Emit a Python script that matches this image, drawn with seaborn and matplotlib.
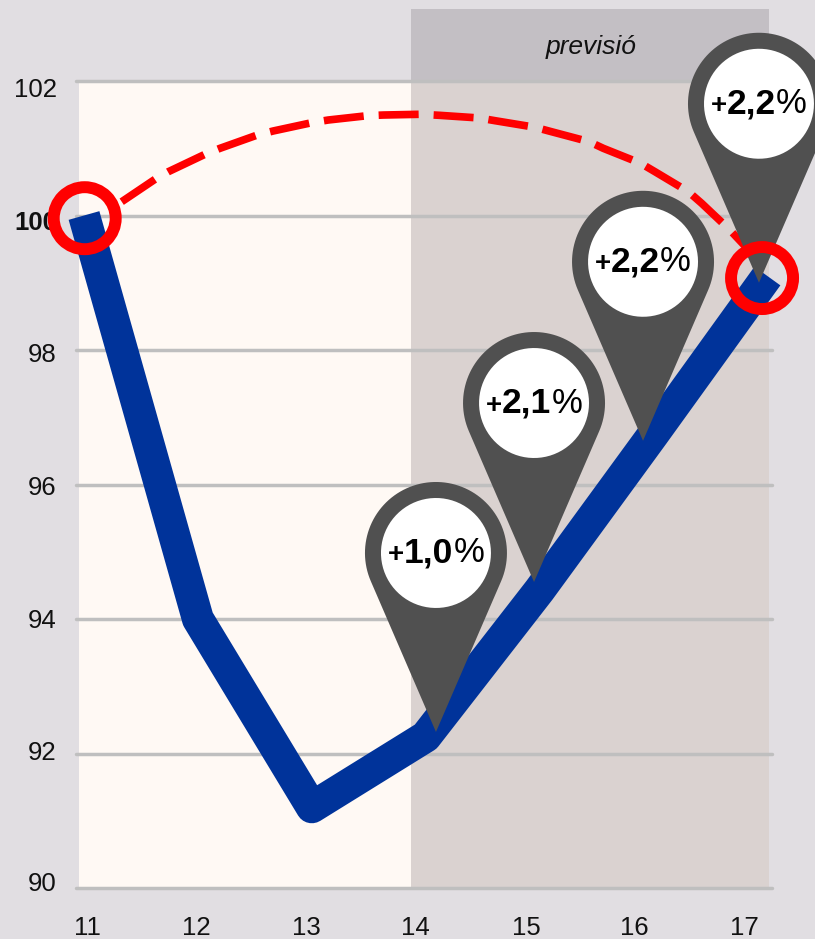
import numpy as np
import seaborn as sns
import matplotlib
matplotlib.use("Agg")
import matplotlib.pyplot as plt
from matplotlib.patches import Polygon
from matplotlib.transforms import Affine2D
from matplotlib.offsetbox import AnnotationBbox, HPacker, TextArea

# chart data
years = [11, 12, 13, 14, 15, 16, 17]
index_values = [100.0, 94.0, 91.2, 92.25, 94.43, 96.75, 99.1]
grid_levels = [90, 92, 94, 96, 98, 100, 102]

# tick labels sit a little off the real positions in the original
xtick_pos = [11.03, 11.99, 12.95, 13.91, 14.88, 15.83, 16.80]
xtick_labels = ["11", "12", "13", "14", "15", "16", "17"]
ytick_pos = [101.91, 99.93, 97.97, 95.99, 94.01, 92.05, 90.09]
ytick_labels = ["102", "100", "98", "96", "94", "92", "90"]

# dashed arc between the two circled points
arc_x = [11.331, 11.623, 11.740, 12.062, 12.194, 12.522, 12.662, 12.999, 13.145,
         13.487, 13.628, 13.950, 14.119, 14.471, 14.608, 14.960, 15.091, 15.436,
         15.559, 15.888, 16.013, 16.306, 16.423, 16.671, 16.803, 16.935]
arc_y = [100.205, 100.538, 100.651, 100.910, 100.999, 101.197, 101.257, 101.380, 101.420,
         101.484, 101.494, 101.505, 101.490, 101.450, 101.410, 101.312, 101.252, 101.097,
         100.999, 100.776, 100.651, 100.354, 100.181, 99.784, 99.546, 99.309]

ring_x = [11.006, 16.953]
ring_y = [99.96, 99.07]

pin_x = [14.09, 14.951, 15.908, 16.926]
pin_y = [92.32, 94.55, 96.65, 99.0]
pin_values = ["1,0", "2,1", "2,2", "2,2"]

forecast_start = 13.871

BG = "#E1DEE2"
CREAM = "#FFF9F4"
FORECAST = "#DAD2D0"
HEADER = "#C3BFC4"
GRID = "#BFBFBF"
BLUE = "#00339A"
PIN = "#505050"
RED = "#FF0000"
FONTS = ["Liberation Sans", "DejaVu Sans"]

sns.set_theme(style="white")
plt.rcParams["font.family"] = FONTS

W, H = 815, 939
fig = plt.figure(figsize=(W / 100, H / 100), dpi=100, facecolor=BG)
ax = fig.add_axes([79 / W, (H - 888) / H, 690 / W, 807 / H], facecolor=CREAM)
ax.set_xlim(10.956, 17.014)
ax.set_ylim(90, 102)
sns.despine(ax=ax, left=True, bottom=True)

# background bands
ax.axvspan(forecast_start, 17.014, color=FORECAST, lw=0, zorder=1)
ax.axvspan(forecast_start, 17.014, ymin=1, ymax=1 + 72 / 807, color=HEADER, lw=0,
           zorder=1, clip_on=False)
ax.text(15.45, 102.5, "previsió", style="italic", fontsize=19, color="#111111",
        ha="center", va="center", zorder=2)

for level in grid_levels:
    ax.axhline(level, xmin=-0.004, xmax=1.004, color=GRID, lw=2.5, zorder=2, clip_on=False)

sns.lineplot(x=arc_x, y=arc_y, color=RED, linewidth=5.5, ax=ax, zorder=3,
             linestyle=(0, (5.24, 1.96)), dash_capstyle="butt", dash_joinstyle="round",
             errorbar=None, sort=False)
sns.lineplot(x=years, y=index_values, color=BLUE, linewidth=23, ax=ax, zorder=4,
             solid_capstyle="butt", solid_joinstyle="round", clip_on=False, errorbar=None)

# map pins, shape given in pixels relative to the tip
radius, height = 71, 179
tangent = np.arccos(radius / height)
angles = np.linspace(-np.pi / 2 + tangent, 3 * np.pi / 2 - tangent, 80)
pin_shape = np.column_stack([radius * np.cos(angles), height + radius * np.sin(angles)])
pin_shape = np.vstack([[0, 0], pin_shape])

theta = np.linspace(0, 2 * np.pi, 80)
hole = np.column_stack([55 * np.cos(theta), height + 55 * np.sin(theta)])

for i, value in enumerate(pin_values):
    tip = ax.transData.transform((pin_x[i], pin_y[i]))
    tr = Affine2D().translate(tip[0], tip[1])
    ax.add_patch(Polygon(pin_shape, closed=True, fc=PIN, ec="none", transform=tr,
                         clip_on=False, zorder=5 + i * 0.1))
    ax.add_patch(Polygon(hole, closed=True, fc="white", ec="none", transform=tr,
                         clip_on=False, zorder=5.01 + i * 0.1))
    parts = [
        TextArea("+", textprops=dict(weight="bold", size=20, color="black")),
        TextArea(value, textprops=dict(weight="bold", size=25.5, color="black")),
        TextArea("%", textprops=dict(size=25, color="black")),
    ]
    box = HPacker(children=parts, align="baseline", pad=0, sep=0)
    ab = AnnotationBbox(box, (pin_x[i], pin_y[i]), xybox=(0, height * 0.72),
                        xycoords="data", boxcoords="offset points", frameon=False,
                        box_alignment=(0.5, 0.5), pad=0, annotation_clip=False,
                        zorder=5.02 + i * 0.1)
    ax.add_artist(ab)

# red rings
sns.scatterplot(x=ring_x, y=ring_y, s=1993, facecolors="none", edgecolor=RED,
                linewidth=8.6, ax=ax, zorder=7, clip_on=False, legend=False)

ax.set_xticks(xtick_pos, xtick_labels)
ax.set_yticks(ytick_pos, ytick_labels)
ax.tick_params(axis="x", length=0, pad=20, labelsize=18.5, colors="#111111")
ax.tick_params(axis="y", length=0, pad=16, labelsize=18.5, colors="#111111")
ax.get_yticklabels()[1].set_fontweight("bold")
ax.set_xlabel("")
ax.set_ylabel("")

fig.savefig("out.png", dpi=100, facecolor=BG)
